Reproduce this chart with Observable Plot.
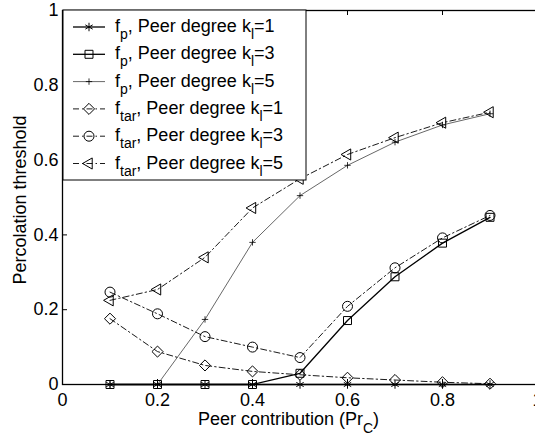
<!DOCTYPE html>
<html><head><meta charset="utf-8">
<script src="https://cdn.jsdelivr.net/npm/d3@7"></script>
<script src="https://cdn.jsdelivr.net/npm/@observablehq/plot@0.6"></script>
<style>
html,body{margin:0;padding:0;background:#fff;overflow:hidden}
#chart svg{display:block}
</style></head><body><div id="chart"></div>
<script>
// ---- data ----
const peerContribution = [0.1, 0.2, 0.3, 0.4, 0.5, 0.6, 0.7, 0.8, 0.9];
const fpK1   = [0, 0, 0, 0, 0, 0, 0, 0, 0];
const fpK3   = [0, 0, 0, 0, 0.03, 0.171, 0.288, 0.378, 0.447];
const fpK5   = [0, 0, 0.174, 0.38, 0.505, 0.586, 0.648, 0.694, 0.724];
const ftarK1 = [0.176, 0.088, 0.051, 0.035, 0.026, 0.018, 0.012, 0.006, 0.002];
const ftarK3 = [0.247, 0.189, 0.128, 0.1, 0.072, 0.209, 0.312, 0.392, 0.452];
const ftarK5 = [0.225, 0.254, 0.34, 0.472, 0.55, 0.615, 0.66, 0.7, 0.728];
const xTicks = [0, 0.2, 0.4, 0.6, 0.8, 1];
const yTicks = [0, 0.2, 0.4, 0.6, 0.8, 1];
const xLabel = ["Peer contribution (Pr", "C", ")"];
const yLabel = "Percolation threshold";
const legendLabels = [
  ["f", "p", ", Peer degree k", "l", "=1"],
  ["f", "p", ", Peer degree k", "l", "=3"],
  ["f", "p", ", Peer degree k", "l", "=5"],
  ["f", "tar", ", Peer degree k", "l", "=1"],
  ["f", "tar", ", Peer degree k", "l", "=3"],
  ["f", "tar", ", Peer degree k", "l", "=5"]
];

// ---- styles ----
const FONT = "'Liberation Sans', Arial, Helvetica, sans-serif";
const FS = 18, SUB = 14;
const DASHDOT = "6,3,1.5,3";
const series = [
  {values: fpK1,   symbol: "asterisk", r: 4,   rotate: 0,   sw: 1.3, dash: null},
  {values: fpK3,   symbol: "square",   r: 4.5, rotate: 0,   sw: 1.3, dash: null},
  {values: fpK5,   symbol: "plus",     r: 2.2, rotate: 0,   sw: 0.6, dash: null},
  {values: ftarK1, symbol: "diamond2", r: 5,   rotate: 0,   sw: 0.9, dash: DASHDOT},
  {values: ftarK3, symbol: "circle",   r: 5,   rotate: 0,   sw: 0.9, dash: DASHDOT},
  {values: ftarK5, symbol: "triangle2",r: 5.3, rotate: -90, sw: 0.9, dash: DASHDOT}
];
const d3Sym = {asterisk: d3.symbolAsterisk, square: d3.symbolSquare, plus: d3.symbolPlus,
  diamond2: d3.symbolDiamond2, circle: d3.symbolCircle, triangle2: d3.symbolTriangle2};

const X0 = 62, X1 = 537, Y0 = 384, Y1 = 10;
const tickLenY = 5 / (Y0 - Y1), tickLenX = 5 / (X1 - X0);

const marks = [];
series.forEach(s => {
  const data = peerContribution.map((x, i) => ({x, y: s.values[i]}));
  marks.push(Plot.line(data, {x: "x", y: "y", stroke: "black", strokeWidth: s.sw,
    strokeDasharray: s.dash, strokeLinejoin: "miter"}));
  marks.push(Plot.dot(data, {x: "x", y: "y", symbol: () => s.symbol, r: s.r, rotate: s.rotate,
    stroke: "black", fill: "none", strokeWidth: s.symbol === "plus" ? 0.8 : 1}));
});

const plot = Plot.plot({
  width: 535, height: 439,
  marginLeft: X0, marginRight: 535 - X1, marginTop: Y1, marginBottom: 439 - Y0,
  style: {fontFamily: FONT, fontSize: FS + "px", background: "white", color: "black", overflow: "hidden"},
  x: {domain: [0, 1], range: [X0, X1]},
  y: {domain: [0, 1], range: [Y0, Y1]},
  symbol: {type: "identity"},
  marks: [
    ...marks,
    Plot.ruleX(xTicks, {x: d => d, y1: 0, y2: tickLenY, stroke: "black"}),
    Plot.ruleX(xTicks, {x: d => d, y1: 1, y2: 1 - tickLenY, stroke: "black"}),
    Plot.ruleY(yTicks, {y: d => d, x1: 0, x2: tickLenX, stroke: "black"}),
    Plot.axisX(xTicks, {tickSize: 0, tickPadding: 9, label: null, fontSize: FS, fill: "black",
      tickFormat: d => String(+d.toFixed(1))}),
    Plot.axisY(yTicks, {tickSize: 0, tickPadding: 4, label: null, fontSize: FS, fill: "black",
      tickFormat: d => String(+d.toFixed(1))}),
    Plot.frame({stroke: "black", strokeWidth: 1.3})
  ]
});

const svg = d3.select(plot);
const xs = plot.scale("x");

// axis labels
const xl = svg.append("text").attr("font-family", FONT).attr("font-size", FS)
  .attr("x", (xs.apply(0) + xs.apply(1)) / 2 - 11).attr("y", Y0 + 41).attr("text-anchor", "middle");
xl.append("tspan").text(xLabel[0]);
xl.append("tspan").attr("dy", 8).attr("font-size", SUB).text(xLabel[1]);
xl.append("tspan").attr("dy", -8).text(xLabel[2]);
svg.append("text").attr("font-family", FONT).attr("font-size", FS).attr("text-anchor", "middle")
  .attr("transform", `translate(26,${(Y0 + Y1) / 2 + 3}) rotate(-90)`).text(yLabel);

// legend
const lg = svg.append("g");
const LX = X0 + 1, LY = Y1, LW = 243, LH = 170;
lg.append("rect").attr("x", LX).attr("y", LY).attr("width", LW).attr("height", LH)
  .attr("fill", "white").attr("stroke", "black").attr("stroke-width", 1);
series.forEach((s, i) => {
  const cy = LY + 17 + i * 27.3;
  lg.append("line").attr("x1", LX + 10).attr("x2", LX + 42).attr("y1", cy).attr("y2", cy)
    .attr("stroke", "black").attr("stroke-width", s.sw).attr("stroke-dasharray", s.dash);
  lg.append("path").attr("d", d3.symbol(d3Sym[s.symbol], Math.PI * s.r * s.r)())
    .attr("transform", `translate(${LX + 26},${cy}) rotate(${s.rotate})`)
    .attr("fill", "none").attr("stroke", "black").attr("stroke-width", s.symbol === "plus" ? 0.8 : 1);
  const L = legendLabels[i];
  const t = lg.append("text").attr("font-family", FONT).attr("font-size", FS)
    .attr("text-anchor", "start").attr("x", LX + 52).attr("y", cy + 5);
  t.append("tspan").text(L[0]);
  t.append("tspan").attr("dy", 7).attr("font-size", SUB).text(L[1]);
  t.append("tspan").attr("dy", -7).text(L[2]);
  t.append("tspan").attr("dy", 7).attr("font-size", SUB).text(L[3]);
  t.append("tspan").attr("dy", -7).text(L[4]);
});

document.getElementById("chart").appendChild(plot);
</script></body></html>
